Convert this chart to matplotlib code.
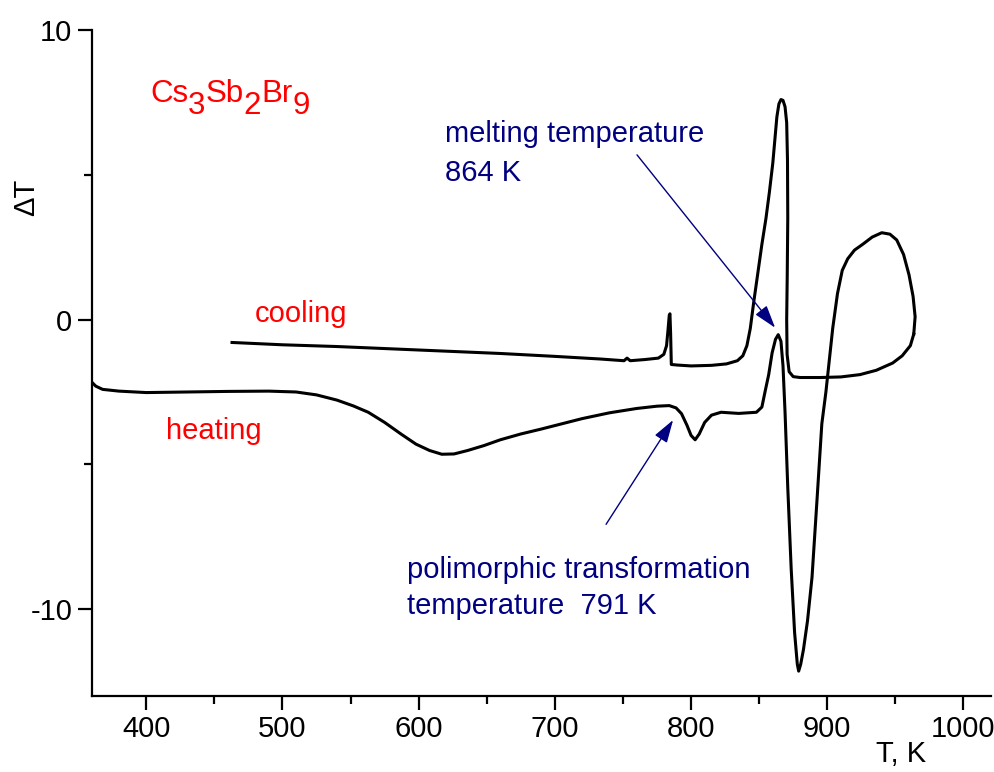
import numpy as np
import matplotlib.pyplot as plt
from matplotlib.ticker import MultipleLocator

plt.rcParams['font.family'] = ['Liberation Sans', 'DejaVu Sans']
plt.rcParams['axes.unicode_minus'] = False

# DTA trace of Cs3Sb2Br9: heating run (up to the top of the high-T loop)
heat_T = [360.2, 363, 368, 380, 400, 430, 460, 490, 510, 525,
          540, 552, 563, 575, 587, 598, 608, 617, 626, 636,
          648, 660, 675, 690, 705, 720, 740, 760, 775, 784,
          789, 793, 797, 800, 803, 806, 810, 815, 822, 835,
          848, 852, 854.5, 857, 859.5, 862, 864, 866, 867.5, 869,
          871, 873.5, 876, 878, 879, 880.5, 882.5, 885.5, 888.8, 892.5,
          896, 899, 901.5, 904, 907.5, 911, 915, 920, 926, 933,
          940, 946, 951, 956, 960, 963, 964.5, 963.5]
heat_dT = [-2.17, -2.30, -2.41, -2.47, -2.52, -2.50, -2.48, -2.47, -2.50, -2.60,
           -2.78, -2.98, -3.20, -3.55, -3.95, -4.30, -4.52, -4.65, -4.64, -4.52,
           -4.35, -4.15, -3.95, -3.78, -3.60, -3.42, -3.22, -3.07, -2.99, -2.97,
           -3.05, -3.25, -3.65, -4.00, -4.15, -3.95, -3.55, -3.30, -3.20, -3.24,
           -3.20, -3.02, -2.45, -1.90, -1.15, -0.68, -0.52, -0.75, -1.60, -3.20,
           -5.80, -8.60, -10.80, -11.90, -12.14, -11.90, -11.40, -10.40, -8.90, -6.20,
           -3.60, -2.50, -1.40, -0.30, 0.90, 1.70, 2.10, 2.40, 2.60, 2.85,
           3.00, 2.95, 2.75, 2.25, 1.55, 0.80, 0.10, -0.50]

# cooling run, back from the top of the loop
cool_T = [963.5, 961, 955, 948, 936, 924, 910, 895, 880, 875,
          872, 870.5, 870.2, 870.6, 871, 870.8, 870.2, 869, 867.5, 866,
          864.5, 863, 861.5, 860, 857.5, 855, 852, 849, 846, 843.5,
          841, 838, 834, 826, 815, 800, 790, 785.5, 785, 784.5,
          784, 783, 782, 780, 776, 766, 755.3, 753, 750.8, 733,
          700, 660, 600, 540, 500, 463]
cool_dT = [-0.50, -0.90, -1.25, -1.50, -1.75, -1.90, -1.98, -2.00, -2.00, -1.97,
           -1.80, -1.20, 0.00, 1.50, 3.50, 5.50, 6.80, 7.35, 7.57, 7.60,
           7.45, 7.00, 6.20, 5.40, 4.40, 3.50, 2.60, 1.60, 0.60, -0.30,
           -0.90, -1.25, -1.42, -1.53, -1.58, -1.60, -1.57, -1.55, -0.50, 0.20,
           0.15, -0.40, -0.90, -1.20, -1.33, -1.38, -1.42, -1.33, -1.42, -1.36,
           -1.27, -1.17, -1.05, -0.93, -0.87, -0.79]

T_melt = 864
T_poly = 791

fig = plt.figure(figsize=(9.94, 7.72), dpi=100)
ax = fig.add_axes([0.0923, 0.0984, 0.9044, 0.8627])

ax.plot(heat_T, heat_dT, color='black', lw=2.2, solid_joinstyle='round')
ax.plot(cool_T, cool_dT, color='black', lw=2.2, solid_joinstyle='round')

ax.set_xlim(360, 1020)
ax.set_ylim(-13, 10)
ax.xaxis.set_major_locator(MultipleLocator(100))
ax.xaxis.set_minor_locator(MultipleLocator(50))
ax.yaxis.set_major_locator(MultipleLocator(10))
ax.yaxis.set_minor_locator(MultipleLocator(5))
ax.tick_params(which='major', direction='out', length=10, width=1.6,
               labelsize=21, pad=4)
ax.tick_params(which='minor', direction='out', length=5.5, width=1.6)
for side in ['top', 'right']:
    ax.spines[side].set_visible(False)
for side in ['left', 'bottom']:
    ax.spines[side].set_linewidth(1.6)

ax.set_ylabel('\u0394T', fontsize=21)
ax.yaxis.set_label_coords(-0.057, 0.748)
ax.set_xlabel('T, K', fontsize=21)
ax.xaxis.set_label_coords(0.9, -0.066)

# compound name with full-size, lowered subscripts
sub = 8.4
fs = 22.5
t = ax.text(402.8, 7.52, 'Cs', color='red', fontsize=fs, va='baseline')
parts = [('3', -sub), ('Sb', sub), ('2', -sub), ('Br', sub), ('9', -sub)]
prev = t
for s, dy in parts:
    prev = ax.annotate(s, xy=(1, 0), xycoords=prev, xytext=(0, dy),
                       textcoords='offset points', color='red', fontsize=fs,
                       va='bottom', ha='left')

ax.text(480, -0.1, 'cooling', color='red', fontsize=21, va='baseline')
ax.text(414.6, -4.14, 'heating', color='red', fontsize=21, va='baseline')

navy = '#000080'
ax.text(619.5, 6.14, 'melting temperature', color=navy, fontsize=21, va='baseline')
ax.text(619.5, 4.79, f'{T_melt} K', color=navy, fontsize=21, va='baseline')
ax.text(591.5, -8.93, 'polimorphic transformation', color=navy, fontsize=21,
        va='baseline')
ax.text(591.5, -10.17, f'temperature  {T_poly} K', color=navy, fontsize=21,
        va='baseline')

arrow = dict(arrowstyle='-|>,head_length=0.7,head_width=0.22', color=navy,
             lw=1.0, shrinkA=0, shrinkB=0, mutation_scale=20)
ax.annotate('', xy=(861.7, -0.28), xytext=(760.3, 5.69), arrowprops=arrow)
ax.annotate('', xy=(786.8, -3.47), xytext=(737.6, -7.07), arrowprops=arrow)

fig.savefig('out.png', dpi=100)
